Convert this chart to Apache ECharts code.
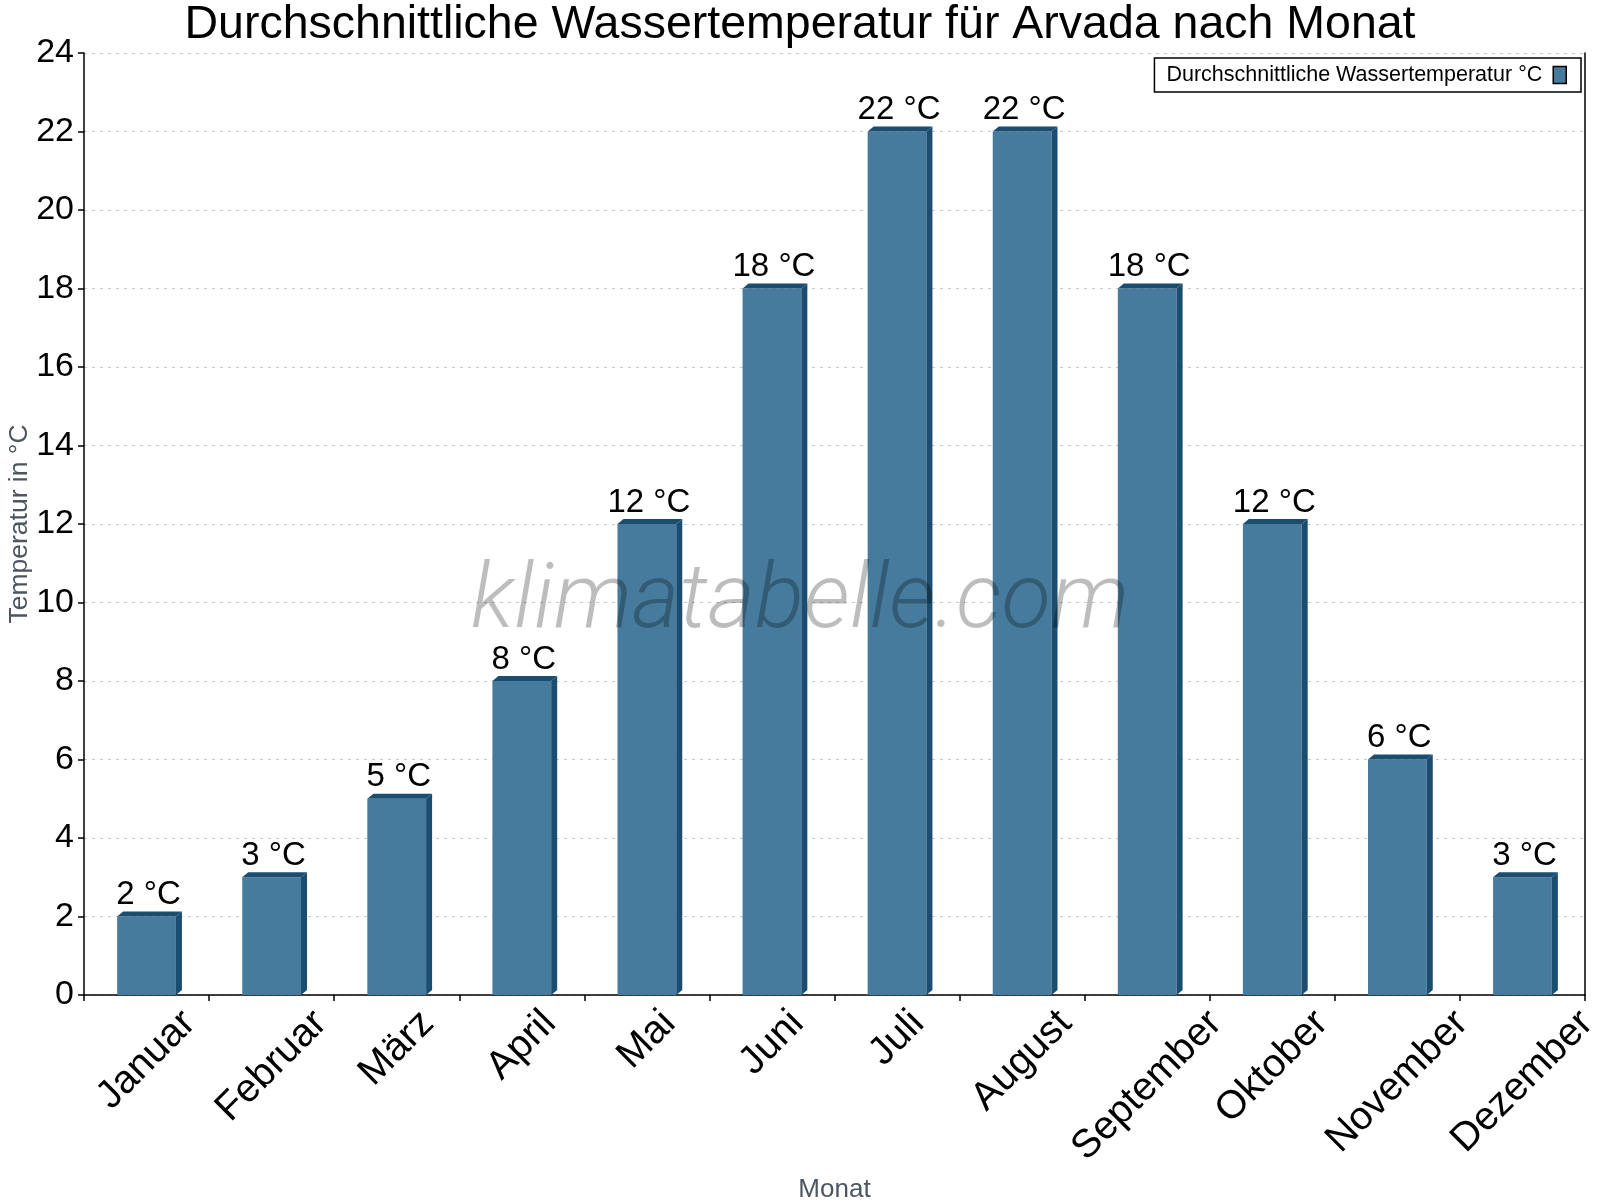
<!DOCTYPE html>
<html lang="de" style="height: 100%">
<head>
  <meta charset="utf-8">
  <style>
    body { margin: 0; background: #fff; }
  </style>
</head>
<body style="height: 100%; margin: 0">
  <div id="container" style="width: 1600px; height: 1200px"></div>

  <script type="text/javascript" src="https://cdn.jsdelivr.net/npm/echarts@6/dist/echarts.min.js"></script>

  <script type="text/javascript">
    // data
    var months = ['Januar', 'Februar', 'März', 'April', 'Mai', 'Juni', 'Juli', 'August', 'September', 'Oktober', 'November', 'Dezember'];
    var waterTemp = [2, 3, 5, 8, 12, 18, 22, 22, 18, 12, 6, 3];
    var yTicks = { min: 0, max: 24, step: 2 };
    var seriesName = 'Durchschnittliche Wassertemperatur °C';

    var FONT = '"Liberation Sans", Arial, sans-serif';
    var FRONT = '#467b9d';
    var DARK = '#1a4d6f';
    var LABEL_SIZE = 39.5;

    var dom = document.getElementById('container');
    var myChart = echarts.init(dom, null, { renderer: 'canvas' });

    var measure = document.createElement('canvas').getContext('2d');
    measure.font = LABEL_SIZE + 'px ' + FONT;

    // bar with a small 3d top and right side
    function renderBar(params, api) {
      var idx = api.value(0);
      var val = api.value(1);
      var base = api.coord([idx, 0]);
      var top = api.coord([idx, val]);
      var bw = api.size([1, 0])[0] * 0.47;
      var left = base[0] - bw / 2;
      var right = base[0] + bw / 2;
      var dx = 6, dy = 5;
      return {
        type: 'group',
        children: [
          { type: 'rect', shape: { x: left, y: top[1], width: bw, height: base[1] - top[1] }, style: { fill: FRONT } },
          { type: 'polygon', shape: { points: [[left, top[1]], [left + dx, top[1] - dy], [right + dx, top[1] - dy], [right, top[1]]] }, style: { fill: DARK } },
          { type: 'polygon', shape: { points: [[right, top[1]], [right + dx, top[1] - dy], [right + dx, base[1] - dy], [right, base[1]]] }, style: { fill: DARK } },
          {
            type: 'text',
            style: {
              text: val + ' °C',
              x: base[0] + 2,
              y: top[1] - dy,
              align: 'center',
              verticalAlign: 'bottom',
              font: '33px ' + FONT,
              fill: '#000'
            }
          }
        ]
      };
    }

    // month names, rotated 45deg, box centred under the category, top edge fixed
    function renderMonth(params, api) {
      var idx = api.value(0);
      var base = api.coord([idx, 0]);
      var name = months[idx];
      var len = measure.measureText(name).width;
      var half = 0.7071 * (len + 0.74 * LABEL_SIZE) / 2;
      return {
        type: 'text',
        x: base[0],
        y: base[1] + 12 + half,
        rotation: Math.PI / 4,
        style: {
          text: name,
          align: 'center',
          verticalAlign: 'middle',
          font: LABEL_SIZE + 'px ' + FONT,
          fill: '#000'
        }
      };
    }

    var option = {
      animation: false,
      backgroundColor: '#fff',
      title: {
        text: 'Durchschnittliche Wassertemperatur für Arvada nach Monat',
        left: 'center',
        top: -3,
        textStyle: { fontFamily: FONT, fontSize: 46.5, fontWeight: 'normal', color: '#000' }
      },
      legend: {
        right: 19,
        top: 58,
        align: 'right',
        icon: 'rect',
        itemWidth: 13,
        itemHeight: 17,
        padding: [6, 14, 6, 12],
        borderColor: '#000',
        borderWidth: 1.5,
        borderRadius: 0,
        itemStyle: { borderColor: '#000', borderWidth: 1.5 },
        textStyle: { fontFamily: FONT, fontSize: 21.5, color: '#000', padding: [0, 6, 0, 0] },
        data: [seriesName]
      },
      grid: { left: 84, right: 15, top: 53, bottom: 205, containLabel: false, outerBoundsMode: 'none' },
      xAxis: {
        type: 'category',
        data: months,
        boundaryGap: true,
        axisLine: { lineStyle: { color: '#000', width: 1.5 } },
        axisTick: { show: true, length: 6, lineStyle: { color: '#000', width: 1.5 } },
        axisLabel: { show: false },
        splitLine: { show: false },
        name: 'Monat',
        nameLocation: 'middle',
        nameGap: 182,
        nameMoveOverlap: false,
        nameTextStyle: { fontFamily: FONT, fontSize: 26, color: '#4d5560' }
      },
      yAxis: [
        {
          type: 'value',
          min: yTicks.min,
          max: yTicks.max,
          interval: yTicks.step,
          axisLine: { show: true, lineStyle: { color: '#000', width: 1.5 } },
          axisTick: { show: true, length: 6, lineStyle: { color: '#000', width: 1.5 } },
          axisLabel: { fontFamily: FONT, fontSize: 34, color: '#000', margin: 10 },
          splitLine: { show: true, lineStyle: { color: '#c8c8c8', type: [3, 5], width: 1 } },
          name: 'Temperatur in °C',
          nameLocation: 'middle',
          nameGap: 51,
          nameMoveOverlap: false,
          nameTextStyle: { fontFamily: FONT, fontSize: 26.5, color: '#4d5560' }
        },
        {
          type: 'value',
          position: 'right',
          min: yTicks.min,
          max: yTicks.max,
          interval: yTicks.step,
          axisLine: { show: true, lineStyle: { color: '#000', width: 1.5 } },
          axisTick: { show: false },
          axisLabel: { show: false },
          splitLine: { show: false }
        }
      ],
      graphic: [
        {
          type: 'text',
          left: 'center',
          top: 559,
          z: 100,
          style: {
            text: 'klimatabelle.com',
            font: 'italic 300 91px Roboto, "Open Sans", sans-serif',
            fill: 'rgba(0,0,0,0.26)'
          }
        }
      ],
      series: [
        {
          name: seriesName,
          type: 'custom',
          renderItem: renderBar,
          itemStyle: { color: FRONT },
          encode: { x: 0, y: 1 },
          data: waterTemp.map(function (v, i) { return [i, v]; })
        },
        {
          name: 'Monatsnamen',
          type: 'custom',
          clip: false,
          silent: true,
          renderItem: renderMonth,
          encode: { x: 0, y: 1 },
          data: months.map(function (m, i) { return [i, 0]; })
        }
      ]
    };

    myChart.setOption(option);
    window.addEventListener('resize', myChart.resize);
  </script>
</body>
</html>
